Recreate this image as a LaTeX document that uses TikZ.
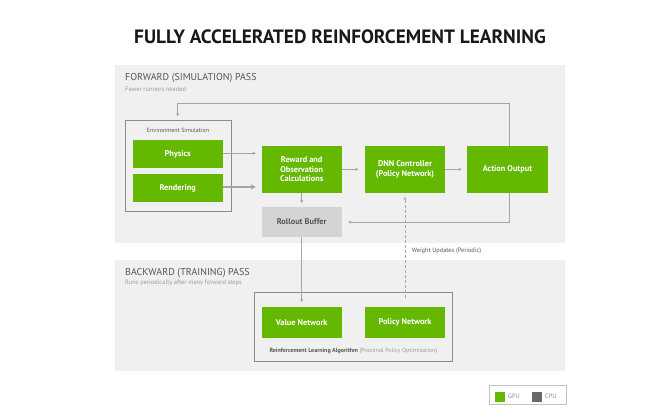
\documentclass[tikz,border=0pt]{standalone}
\usepackage{fontspec}
\setmainfont{PT Sans}
\usetikzlibrary{arrows.meta,calc}
\definecolor{nvgreen}{RGB}{100,185,0}
\definecolor{panel}{RGB}{240,240,240}
\definecolor{linegray}{RGB}{165,165,165}
\definecolor{framegray}{RGB}{140,140,140}
\definecolor{txtgray}{RGB}{85,85,85}
\definecolor{subgray}{RGB}{155,155,155}
\definecolor{bufgray}{RGB}{212,212,212}
\definecolor{cpugray}{RGB}{105,105,105}
\begin{document}
\begin{tikzpicture}[x=1pt,y=-1pt,
  panelbox/.style={fill=panel, draw=none, inner sep=0pt},
  framebox/.style={draw=framegray, line width=0.8pt, fill=none, inner sep=0pt},
  gbox/.style={fill=nvgreen, text=white, font=\bfseries\fontsize{8.3}{9.6}\selectfont, align=center, inner sep=0pt, minimum width=80pt},
  bigbox/.style={gbox, minimum height=46.7pt},
  smallbox/.style={gbox, minimum height=31pt},
  envbox/.style={gbox, minimum width=90pt, minimum height=28.3pt},
  buf/.style={smallbox, fill=bufgray, text=txtgray, minimum height=30.6pt},
  conn/.style={draw=linegray, line width=0.8pt, -{Stealth[length=3.2pt,width=3.2pt]}},
  heading/.style={anchor=west, inner sep=0pt, text=txtgray, font=\fontsize{10}{11}\selectfont},
  sub/.style={anchor=west, inner sep=0pt, text=subgray, font=\fontsize{6.4}{7}\selectfont},
  small/.style={inner sep=0pt, text=txtgray, font=\fontsize{6}{7}\selectfont}
]
\useasboundingbox (0,0) rectangle (672,419);
\fill[white] (0,0) rectangle (672,419);

% title
\node[inner sep=0pt, font=\bfseries\fontsize{19.3}{22}\selectfont, text=black!90] (title) at (340,37) {FULLY ACCELERATED REINFORCEMENT LEARNING};

% panels
\node[panelbox, minimum width=450pt, minimum height=178pt] (fwd) at (340,154) {};
\node[panelbox, minimum width=450pt, minimum height=110.7pt] (bwd) at (340,315.35) {};

\node[heading] (fwdh) at (125,78) {FORWARD (SIMULATION) PASS};
\node[sub] (fwds) at (125,89) {Fewer runners needed};
\node[heading] (bwdh) at (125,273.3) {BACKWARD (TRAINING) PASS};
\node[sub] (bwds) at (125,283.3) {Runs periodically after many forward steps};

% environment simulation
\node[framebox, minimum width=106.7pt, minimum height=91pt] (env) at (178.35,165.5) {};
\node[small] (envl) at (178,130) {Environment Simulation};
\node[envbox] (phys) at (177.7,154.2) {Physics};
\node[envbox] (rend) at (177.7,188.2) {Rendering};

% forward boxes
\node[bigbox] (rew) at (301.7,169.3) {Reward and\\Observation\\Calculations};
\node[bigbox] (dnn) at (405,169.3) {DNN Controller\\(Policy Network)};
\node[bigbox, minimum width=80.4pt] (act) at (507.5,169.3) {Action Output};
\node[buf] (roll) at (301.7,222) {Rollout Buffer};

% backward boxes
\node[framebox, minimum width=198.4pt, minimum height=68.7pt] (rl) at (353.5,326.65) {};
\node[smallbox] (val) at (301.7,322.8) {Value Network};
\node[smallbox] (pol) at (405,322.8) {Policy Network};
\node[small] (rll) at (353.3,350.7) {\bfseries Reinforcement Learning Algorithm \mdseries\color{subgray}(Proximal Policy Optimization)};

% connectors
\draw[conn, shorten >=5.7pt] ($(phys.east)+(0,-0.9)$) -- ($(phys.east -| rew.west)+(0,-0.9)$);
\draw[conn, line width=2pt, -{Stealth[length=5pt,width=5.5pt]}, shorten >=5.7pt] ($(rend.east)+(0,-1.2)$) -- ($(rend.east -| rew.west)+(0,-1.2)$);
\draw[conn, shorten >=6.3pt] (rew.east) -- (dnn.west);
\draw[conn, shorten >=5.5pt] (dnn.east) -- (act.west);
\draw[conn, shorten >=3.4pt] (rew.south) -- (roll.north);
\coordinate (top) at (509,103.3);
\draw[conn, shorten >=3.3pt] (act.north -| top) -- (top) -| (env.north -| phys.north);
\draw[conn, shorten >=6.3pt] (act.south -| top) |- (roll.east);
\draw[conn, shorten >=5pt] (roll.south) -- (val.north);
\draw[conn, dashed, dash pattern=on 3pt off 2pt, shorten <=4.3pt, shorten >=4pt] ($(rl.north -| pol.north)+(0,10.7)$) -- (dnn.south);
\node[small, anchor=west, font=\fontsize{6.3}{7}\selectfont] (wu) at (411.7,251.3) {Weight Updates (Periodic)};

% legend
\node[draw=linegray!70, line width=0.6pt, fill=white, minimum width=77pt, minimum height=19pt, inner sep=0pt] (leg) at (527.5,394.5) {};
\node[fill=nvgreen, minimum size=10pt, inner sep=0pt] (gsq) at (500,396.7) {};
\node[small, anchor=west, text=subgray!90!black, font=\fontsize{6.4}{7}\selectfont] (gpu) at (508,396.7) {GPU};
\node[fill=cpugray, minimum size=10pt, inner sep=0pt] (csq) at (536.7,396.7) {};
\node[small, anchor=west, text=subgray!90!black, font=\fontsize{6.4}{7}\selectfont] (cpu) at (545,396.7) {CPU};
\end{tikzpicture}
\end{document}
